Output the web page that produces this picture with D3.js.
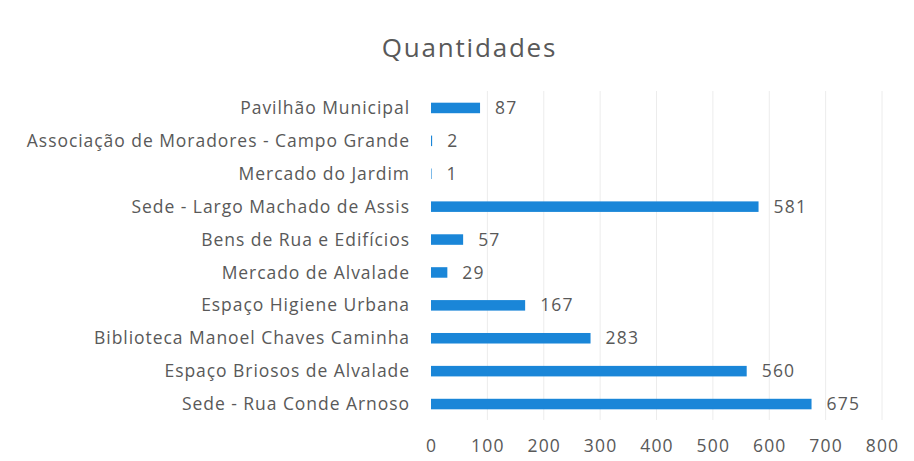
<!DOCTYPE html>
<html><head><meta charset="utf-8">
<script src="https://cdn.jsdelivr.net/npm/d3@7"></script>
<style>body{margin:0;background:#fff}svg{display:block}</style>
</head><body>
<script>
const categories = ["Pavilhão Municipal","Associação de Moradores - Campo Grande","Mercado do Jardim","Sede - Largo Machado de Assis","Bens de Rua e Edifícios","Mercado de Alvalade","Espaço Higiene Urbana","Biblioteca Manoel Chaves Caminha","Espaço Briosos de Alvalade","Sede - Rua Conde Arnoso"];
const values = [87,2,1,581,57,29,167,283,560,675];
const xTicks = [0,100,200,300,400,500,600,700,800];
const title = "Quantidades";

const W=914,H=461;
const svg=d3.select("body").append("svg").attr("width",W).attr("height",H);
const font="'Open Sans', sans-serif", col="#595959";
const x=d3.scaleLinear().domain([0,800]).range([431,882]);
const y=d3.scaleBand().domain(categories).range([91.5,420.5]).paddingInner(0.68).paddingOuter(0.34);

svg.append("g").selectAll("line").data(xTicks.slice(1)).join("line")
  .attr("x1",d=>x(d)).attr("x2",d=>x(d)).attr("y1",91).attr("y2",420)
  .attr("stroke","#ececec").attr("stroke-width",1);

svg.append("text").attr("x",469.5).attr("y",57).attr("text-anchor","middle")
  .attr("font-family",font).attr("font-size",26).attr("fill",col).attr("letter-spacing",1.8).text(title);

svg.append("g").selectAll("rect").data(values).join("rect")
  .attr("x",x(0)).attr("y",(d,i)=>y(categories[i])).attr("width",d=>x(d)-x(0)).attr("height",y.bandwidth())
  .attr("fill","#1a86d8");

svg.append("g").selectAll("text").data(categories).join("text")
  .attr("x",410).attr("y",d=>y(d)+y.bandwidth()/2).attr("dy","0.35em").attr("text-anchor","end")
  .attr("font-family",font).attr("font-size",17.5).attr("fill",col).attr("letter-spacing",0.95).text(d=>d);

svg.append("g").selectAll("text").data(values).join("text")
  .attr("x",d=>x(d)+15).attr("y",(d,i)=>y(categories[i])+y.bandwidth()/2).attr("dy","0.35em")
  .attr("font-family",font).attr("font-size",17.5).attr("fill",col).attr("letter-spacing",1.2).text(d=>d);

const ax=svg.append("g").attr("transform","translate(0,446)").call(d3.axisBottom(x).tickValues(xTicks).tickSize(0).tickPadding(0));
ax.select(".domain").remove();
ax.selectAll("text").attr("font-family",font).attr("font-size",17.5).attr("fill",col).attr("dy","0.35em").attr("letter-spacing",1.2);
</script>
</body></html>
